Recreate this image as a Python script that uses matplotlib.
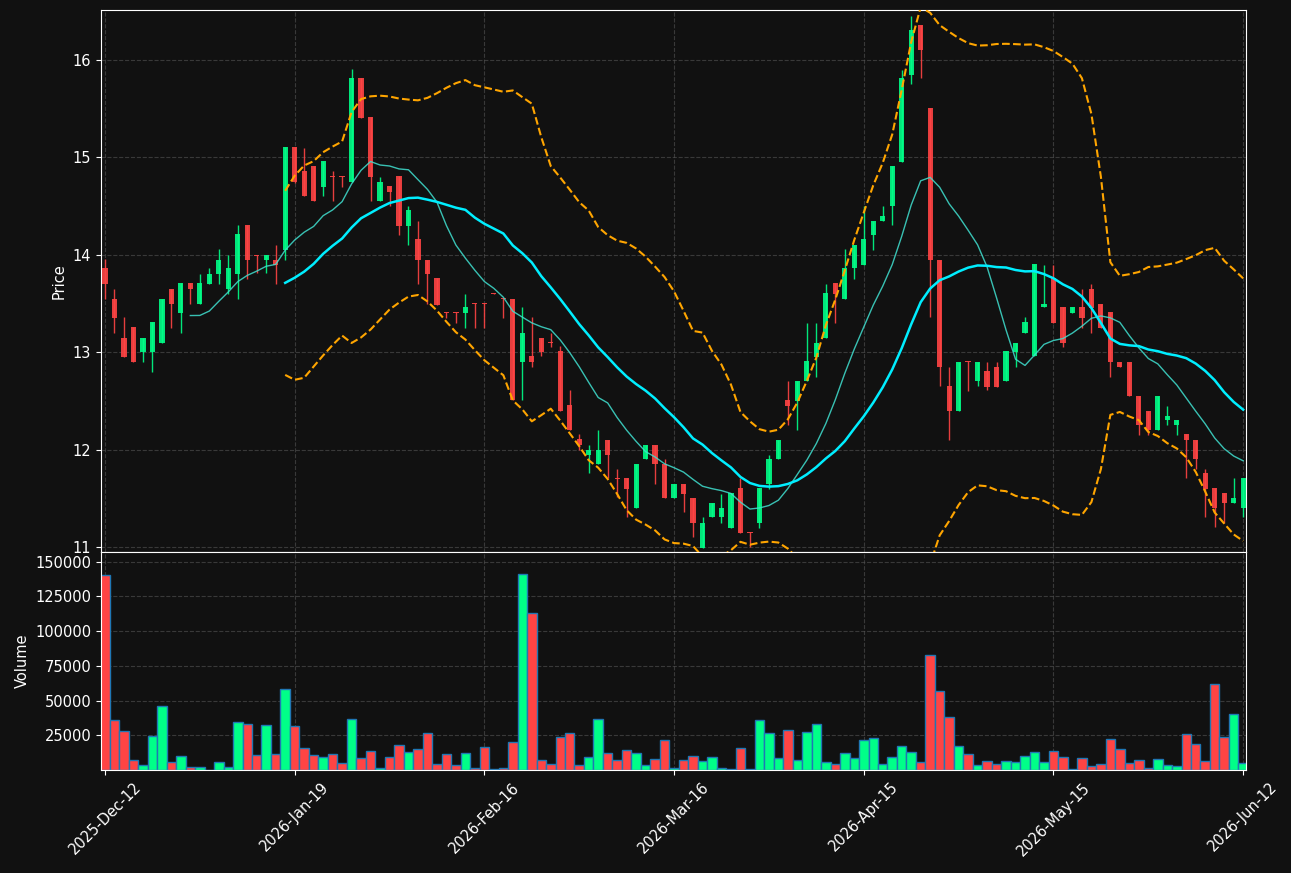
import numpy as np
import pandas as pd
import matplotlib
matplotlib.use("Agg")
import matplotlib.pyplot as plt

# daily OHLC + volume, 121 sessions
opens = [13.86, 13.55, 13.15, 13.26, 13.00, 13.00, 13.10, 13.65, 13.40, 13.71,
         13.50, 13.70, 13.80, 13.65, 13.80, 14.31, 14.00, 13.95, 13.95, 14.05,
         15.11, 14.86, 14.91, 14.70, 14.81, 14.81, 14.75, 15.81, 15.41, 14.55,
         14.71, 14.81, 14.30, 14.16, 13.95, 13.76, 13.41, 13.41, 13.40, 13.51,
         13.51, 13.61, 13.56, 13.55, 12.90, 12.96, 13.15, 13.11, 13.01, 12.46,
         12.11, 11.95, 11.85, 12.10, 11.71, 11.71, 11.40, 11.90, 12.05, 11.85,
         11.50, 11.65, 11.50, 10.99, 11.31, 11.31, 11.20, 11.61, 11.16, 11.25,
         11.65, 11.90, 12.51, 12.50, 12.70, 12.95, 13.15, 13.71, 13.55, 13.86,
         13.90, 14.20, 14.35, 14.50, 14.95, 15.85, 16.36, 15.51, 13.95, 12.65,
         12.40, 12.91, 12.70, 12.81, 12.85, 12.70, 13.00, 13.20, 12.96, 13.46,
         13.76, 13.46, 13.40, 13.46, 13.65, 13.50, 13.41, 12.90, 12.90, 12.55,
         12.40, 12.20, 12.30, 12.25, 12.16, 12.10, 11.76, 11.61, 11.56, 11.45,
         11.40]
highs = [13.96, 13.65, 13.36, 13.26, 13.15, 13.31, 13.55, 13.65, 13.71, 13.71,
         13.80, 13.86, 14.06, 14.00, 14.31, 14.31, 14.00, 14.00, 14.10, 15.11,
         15.11, 15.10, 14.91, 14.96, 14.86, 14.81, 15.91, 15.81, 15.41, 14.80,
         14.71, 14.81, 14.50, 14.35, 13.95, 13.76, 13.41, 13.41, 13.60, 13.51,
         13.51, 13.61, 13.56, 13.55, 13.46, 13.36, 13.15, 13.20, 13.06, 12.61,
         12.16, 12.05, 12.20, 12.10, 11.80, 11.71, 11.85, 12.05, 12.05, 11.90,
         11.65, 11.65, 11.50, 11.31, 11.45, 11.55, 11.56, 11.71, 11.16, 11.61,
         11.95, 12.10, 12.70, 12.70, 13.30, 13.30, 13.70, 13.71, 14.06, 14.10,
         14.50, 14.35, 14.50, 14.91, 15.90, 16.45, 16.36, 15.51, 13.95, 12.85,
         12.90, 12.91, 12.90, 12.90, 12.90, 13.01, 13.10, 13.36, 13.91, 13.90,
         13.90, 13.46, 13.46, 13.65, 13.70, 13.50, 13.41, 12.90, 12.90, 12.55,
         12.40, 12.55, 12.45, 12.30, 12.16, 12.10, 11.80, 11.61, 11.56, 11.71,
         11.71]
lows = [13.55, 13.20, 12.95, 12.90, 12.90, 12.80, 13.10, 13.25, 13.20, 13.50,
        13.50, 13.70, 13.70, 13.60, 13.55, 13.75, 13.81, 13.81, 13.70, 13.95,
        14.74, 14.60, 14.55, 14.60, 14.55, 14.70, 14.75, 15.40, 14.55, 14.55,
        14.50, 14.20, 14.10, 13.70, 13.50, 13.49, 13.35, 13.30, 13.25, 13.25,
        13.25, 13.60, 13.35, 12.51, 12.51, 12.85, 12.96, 13.05, 12.40, 12.20,
        12.00, 11.76, 11.85, 11.71, 11.51, 11.31, 11.40, 11.90, 11.65, 11.50,
        11.50, 11.36, 11.10, 10.99, 11.31, 11.25, 11.20, 11.15, 11.00, 11.20,
        11.60, 11.90, 12.25, 12.20, 12.70, 12.75, 13.15, 13.30, 13.55, 13.75,
        13.90, 14.05, 14.35, 14.31, 14.95, 15.75, 15.81, 13.36, 12.65, 12.10,
        12.40, 12.60, 12.65, 12.61, 12.64, 12.70, 12.85, 13.20, 12.96, 13.46,
        13.30, 13.05, 13.40, 13.25, 13.20, 13.25, 12.75, 12.85, 12.55, 12.15,
        12.15, 12.20, 12.25, 12.15, 11.71, 11.80, 11.31, 11.21, 11.25, 11.45,
        11.31]
closes = [13.70, 13.35, 12.95, 12.90, 13.15, 13.31, 13.55, 13.50, 13.71, 13.65,
          13.71, 13.80, 13.95, 13.86, 14.21, 13.95, 13.99, 14.00, 13.90, 15.11,
          14.75, 14.60, 14.55, 14.96, 14.80, 14.80, 15.81, 15.40, 14.80, 14.75,
          14.65, 14.30, 14.46, 13.95, 13.80, 13.49, 13.40, 13.40, 13.46, 13.50,
          13.50, 13.60, 13.55, 12.51, 13.20, 12.90, 13.00, 13.10, 12.40, 12.20,
          12.05, 12.00, 12.00, 11.95, 11.70, 11.60, 11.85, 12.05, 11.85, 11.50,
          11.65, 11.55, 11.25, 11.25, 11.45, 11.40, 11.56, 11.15, 11.15, 11.61,
          11.90, 12.10, 12.45, 12.70, 12.91, 13.10, 13.61, 13.60, 13.86, 14.10,
          14.16, 14.35, 14.40, 14.91, 15.81, 16.31, 16.10, 13.95, 12.85, 12.40,
          12.90, 12.90, 12.90, 12.64, 12.64, 13.01, 13.10, 13.31, 13.91, 13.50,
          13.30, 13.10, 13.46, 13.35, 13.45, 13.25, 12.90, 12.85, 12.55, 12.25,
          12.20, 12.55, 12.35, 12.30, 12.10, 11.90, 11.60, 11.40, 11.45, 11.50,
          11.71]
volumes = [140200, 35800, 27900, 7000, 3500, 24300, 45800, 5600, 9900, 2000,
           2000, 300, 5600, 2500, 34300, 32900, 10600, 32200, 11400, 58000,
           31500, 15700, 10600, 9200, 11400, 4900, 36500, 8500, 13500, 1300,
           9200, 17800, 12800, 14900, 26400, 4200, 11400, 3500, 12100, 1300,
           16400, 500, 1300, 20000, 141400, 112700, 7000, 4200, 23600, 26400,
           3500, 9200, 36500, 12100, 7000, 14200, 12100, 3500, 7800, 21400,
           1300, 7000, 9900, 6300, 9200, 1300, 500, 15700, 500, 35800,
           26400, 8500, 28600, 7000, 27200, 32900, 5600, 4200, 12100, 8500,
           21400, 22900, 4200, 9200, 17100, 12800, 5600, 82500, 56600, 37900,
           17100, 11400, 3500, 6300, 4200, 6300, 5600, 9900, 12800, 5600,
           13500, 9200, 500, 8500, 2700, 4200, 22100, 14900, 4900, 7000,
           1300, 7800, 3500, 2700, 25700, 18500, 6300, 61700, 23600, 40100,
           4900]
tick_pos = [0, 20, 40, 60, 80, 100, 120]
tick_labels = ["2025-Dec-12", "2026-Jan-19", "2026-Feb-16", "2026-Mar-16",
               "2026-Apr-15", "2026-May-15", "2026-Jun-12"]

df = pd.DataFrame({"Open": opens, "High": highs, "Low": lows,
                   "Close": closes, "Volume": volumes})
x = np.arange(len(df))
ma10 = df["Close"].rolling(10).mean()
ma20 = df["Close"].rolling(20).mean()
sd20 = df["Close"].rolling(20).std(ddof=0)
bb_up = ma20 + 2 * sd20
bb_lo = ma20 - 2 * sd20

bg = "#111111"
up_col = "#00ff88"
dn_col = "#ff4444"
up = df["Close"] >= df["Open"]
colors = np.where(up, up_col, dn_col)
fs = 10.5

fig = plt.figure(figsize=(12.91, 8.73), dpi=100, facecolor=bg)
W, H = 1291, 873
ax = fig.add_axes([101 / W, (H - 552) / H, 1145 / W, 542 / H])
axv = fig.add_axes([101 / W, (H - 770) / H, 1145 / W, 218 / H], sharex=ax)

for a in (ax, axv):
    a.set_facecolor(bg)
    for s in a.spines.values():
        s.set_color("white")
    a.tick_params(colors="white", labelsize=fs)
    a.grid(True, color="#555555", linestyle="--", linewidth=0.8, alpha=0.6)
    a.set_axisbelow(True)

# candles
body_lo = np.minimum(df["Open"], df["Close"])
body_h = np.maximum(np.abs(df["Close"] - df["Open"]), 0.01)
ax.vlines(x, df["Low"], df["High"], colors=colors, linewidth=1, alpha=0.9, zorder=2)
ax.bar(x, body_h, bottom=body_lo, width=0.55, color=colors, alpha=0.9, zorder=3)

ax.plot(x, ma10, color="#40e0d0", linewidth=1, alpha=0.85, zorder=4)
ax.plot(x, ma20, color="#00eeff", linewidth=1.8, zorder=4)
ax.plot(x, bb_up, color="orange", linestyle="--", linewidth=1.5, zorder=4)
ax.plot(x, bb_lo, color="orange", linestyle="--", linewidth=1.5, zorder=4)

ax.set_ylim(10.95, 16.513)
ax.set_yticks([11, 12, 13, 14, 15, 16])
ax.set_ylabel("Price", color="white", fontsize=fs)
ax.tick_params(axis="x", labelbottom=False)

axv.bar(x, df["Volume"], width=1.0, color=colors, edgecolor="#1f77b4", linewidth=1)
axv.set_ylim(0, df["Volume"].max() * 1.11)
axv.set_yticks([25000, 50000, 75000, 100000, 125000, 150000])
axv.set_ylabel("Volume", color="white", fontsize=fs)

axv.set_xlim(-0.42, 120.3)
axv.set_xticks(tick_pos)
axv.set_xticklabels(tick_labels, rotation=45)

fig.savefig("out.png", dpi=100, facecolor=bg)
